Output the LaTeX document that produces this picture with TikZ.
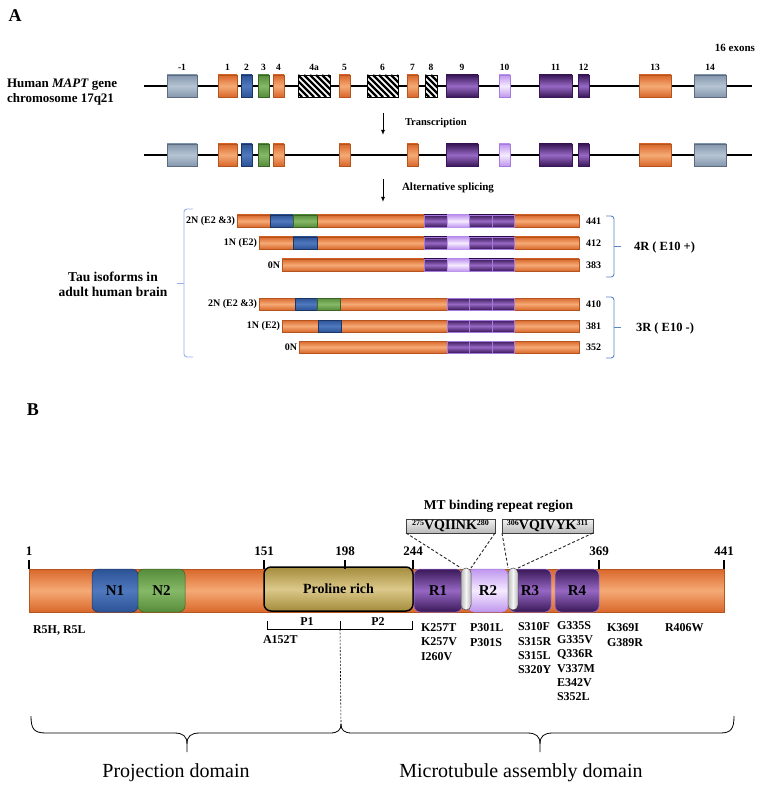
\documentclass[tikz,border=0pt]{standalone}
\usepackage{fontspec}
\setmainfont{Liberation Serif}
\usetikzlibrary{arrows.meta}
\definecolor{orA}{HTML}{D9672A}
\definecolor{orB}{HTML}{F5AA76}
\definecolor{orE}{HTML}{B4541E}
\definecolor{grA}{HTML}{8497AD}
\definecolor{grB}{HTML}{B6C4D3}
\definecolor{grE}{HTML}{5C6C7E}
\definecolor{blA}{HTML}{2D5396}
\definecolor{blB}{HTML}{4F78BE}
\definecolor{blE}{HTML}{1C3566}
\definecolor{gnA}{HTML}{568C3B}
\definecolor{gnB}{HTML}{86B967}
\definecolor{gnE}{HTML}{3A6426}
\definecolor{puA}{HTML}{3A1858}
\definecolor{puB}{HTML}{9668C4}
\definecolor{puE}{HTML}{A57BE0}
\definecolor{lpA}{HTML}{BF96EE}
\definecolor{lpB}{HTML}{F5EBFF}
\definecolor{prA}{HTML}{A48C3C}
\definecolor{prB}{HTML}{DCC98A}
\definecolor{brcR}{HTML}{5A84C4}
\definecolor{brcL}{HTML}{98AEEE}
\newcommand{\fsz}[2]{\fontsize{#1}{#2}\selectfont\bfseries}
\newcommand{\msup}[1]{\raisebox{3.5pt}{\fontsize{8}{9}\selectfont #1}}

\begin{document}
\begin{tikzpicture}[x=1pt,y=-1pt,inner sep=0pt,outer sep=0pt,
orex/.style={draw=orE,line width=0.5pt,top color=orA,bottom color=orA,middle color=orB},
greyex/.style={draw=grE,line width=0.5pt,top color=grA,bottom color=grA,middle color=grB},
blueex/.style={draw=blE,line width=0.5pt,top color=blA,bottom color=blA,middle color=blB},
greenex/.style={draw=gnE,line width=0.5pt,top color=gnA,bottom color=gnA,middle color=gnB},
purex/.style={draw=puA,line width=0.5pt,top color=puA,bottom color=puA,middle color=puB},
lpurex/.style={draw=puE,line width=0.5pt,top color=lpA,bottom color=lpA,middle color=lpB},
isopur/.style={purex,draw=puE},
proex/.style={draw=black,line width=1.5pt,top color=prA,bottom color=prA,middle color=prB},
backbone/.style={line width=1.6pt},
exlbl/.style={font=\fsz{9.5}{10}},
steplbl/.style={font=\fsz{10.5}{12},anchor=west},
steparrow/.style={line width=1pt,-{Latex[length=5pt,width=4pt]}},
isolbl/.style={font=\fsz{10}{11}},
rbrace/.style={draw=brcR,line width=0.9pt},
lbrace/.style={draw=brcL,line width=0.9pt},
protdom/.style={rounded corners=6pt,minimum height=43,font=\fsz{15}{16}},
pill/.style={draw=gray!60!black,line width=0.5pt,left color=gray!55,right color=gray!55,middle color=gray!8,rounded corners=5pt,minimum width=10,minimum height=42},
motif/.style={draw=gray!50!black,line width=0.6pt,top color=gray!10,bottom color=gray!55,minimum height=14,text height=9.5,text depth=3,font=\fsz{14}{15}},
dline/.style={gray!30!black,line width=0.9pt,dash pattern=on 3pt off 2pt},
tick/.style={line width=1.3pt},
tlbl/.style={font=\fsz{13}{14}},
mut/.style={font=\fsz{12}{14},anchor=west},
dombrace/.style={line width=0.8pt}]
\useasboundingbox (0,0) rectangle (765,791);

\node[font=\fsz{18}{20}] (A) at (15,16) {A};
\node[font=\fsz{11}{12}] (nex) at (735,48) {16 exons};
\node[font=\fsz{13}{15.5},align=left,anchor=west] (gene) at (7,92) {Human \textit{MAPT} gene\\chromosome 17q21};

\coordinate (g1a) at (144,86); \coordinate (g1b) at (752,86);
\coordinate (g2a) at (144,155); \coordinate (g2b) at (752,155);
\draw[backbone] (g1a) -- (g1b);
\draw[backbone] (g2a) -- (g2b);

\foreach \yy [count=\r] in {75,144} {
  \foreach \n/\xa/\xb/\s [count=\i] in {-1/167/197/greyex,1/218/237/orex,2/241/252/blueex,3/258/269/greenex,4/273/284/orex,5/339/350/orex,7/407/418/orex,9/446/478/purex,10/499/510/lpurex,11/539/572/purex,12/578/589/purex,13/639/671/orex,14/694/726/greyex} {
    \path[\s] (\xa,\yy) rectangle (\xb,\yy+22);
    \ifnum\r=1 \node[exlbl] (exl\i) at ({(\xa+\xb)/2},67) {\n}; \fi
  }
}
\foreach \n/\xa/\xb [count=\i] in {4a/298/330,6/367/398,8/425/437} {
  \begin{scope}
    \clip (\xa,75) rectangle (\xb,97);
    \fill[white] (\xa,75) rectangle (\xb,97);
    \foreach \k in {-24,-18,...,36} \draw[line width=2.3pt] (\xa+\k,75) -- ++(22,22);
  \end{scope}
  \draw[line width=0.5pt] (\xa,75) rectangle (\xb,97);
  \node[exlbl] (hxl\i) at ({(\xa+\xb)/2},67) {\n};
}

\coordinate (ar1a) at (383,113); \coordinate (ar1b) at (383,135);
\draw[steparrow] (ar1a) -- (ar1b);
\node[steplbl] (trs) at (405,123) {Transcription};
\coordinate (ar2a) at (383,179); \coordinate (ar2b) at (383,202);
\draw[steparrow] (ar2a) -- (ar2b);
\node[steplbl,font=\fsz{11}{12}] (spl) at (402,188) {Alternative splicing};

\foreach \y/\xs/\lab/\num [count=\i] in {221/237/2N (E2 \&3)/441,243/259/1N (E2)/412,265/282/0N/383,304/259/2N (E2 \&3)/410,326/282/1N (E2)/381,347/299/0N/352} {
  \path[orex] (\xs,\y-6) rectangle (579,\y+6);
  \node[isolbl,anchor=east] (iso\i) at (\xs-2,\y) {\lab};
  \node[isolbl,anchor=west] (len\i) at (586,\y) {\num};
}
\foreach \xa/\xb/\y/\s in {270/293/221/blueex,293/317/221/greenex,293/317/243/blueex,295/317/304/blueex,317/340/304/greenex,318/341/326/blueex}
  \path[\s] (\xa,\y-6) rectangle (\xb,\y+6);
\foreach \y in {221,243,265} {
  \path[isopur] (424,\y-6) rectangle (447,\y+6);
  \path[lpurex,draw=lpA] (447,\y-6) rectangle (469,\y+6);
  \path[isopur] (469,\y-6) rectangle (492,\y+6);
  \path[isopur] (492,\y-6) rectangle (514,\y+6);
}
\foreach \y in {304,326,347} {
  \path[isopur] (447,\y-6) rectangle (469,\y+6);
  \path[isopur] (469,\y-6) rectangle (492,\y+6);
  \path[isopur] (492,\y-6) rectangle (514,\y+6);
}

\draw[rbrace,rounded corners=3pt] (606,216) -- (614,216) -- (614,277) -- (606,277);
\draw[rbrace] (614,246.5) -- (621,246.5);
\node[font=\fsz{12.5}{14},anchor=west] (r4) at (634,247) {4R ( E10 +)};
\draw[rbrace,rounded corners=3pt] (606,297) -- (614,297) -- (614,358) -- (606,358);
\draw[rbrace] (614,327.5) -- (621,327.5);
\node[font=\fsz{12.5}{14},anchor=west] (r3) at (636,328) {3R ( E10 -)};
\draw[lbrace,rounded corners=3pt] (193,209) -- (184,209) -- (184,357) -- (193,357);
\draw[lbrace] (184,283) -- (177,283);
\node[font=\fsz{13.5}{15.5},align=center] (tau) at (113,284.5) {Tau isoforms in\\adult human brain};

\node[font=\fsz{18}{20}] (B) at (33,410) {B};
\node[font=\fsz{13.5}{15}] (mtr) at (498.5,506) {MT binding repeat region};
\node[motif,minimum width=89] (m1) at (450.5,526) {\msup{275}VQIINK\msup{280}};
\node[motif,minimum width=91] (m2) at (547.5,526) {\msup{306}VQIVYK\msup{311}};

\path[orex] (29,569) rectangle (724,612);
\node[protdom,blueex,minimum width=46] (N1) at (115,590.5) {N1};
\node[protdom,greenex,minimum width=47] (N2) at (161.5,590.5) {N2};
\node[protdom,proex,rounded corners=7pt,minimum width=149,minimum height=44,font=\fsz{14}{15}] (pro) at (338.5,589) {Proline rich};
\node[protdom,purex,draw=puE,minimum width=48] (R1) at (438,590.5) {R1};
\node[protdom,lpurex,minimum width=40] (R2) at (488,590.5) {R2};
\node[protdom,purex,draw=puE,minimum width=42] (R3) at (530,590.5) {R3};
\node[protdom,purex,draw=puE,minimum width=44] (R4) at (577,590.5) {R4};
\node[pill] (pl1) at (466,589) {};
\node[pill] (pl2) at (513,589) {};

\foreach \x/\t [count=\i] in {29/1,264/151,345/198,413/244,599/369,724/441} {
  \draw[tick] (\x,560) -- (\x,569);
  \node[tlbl] (t\i) at (\x,551) {\t};
}

\draw[dline] (m1.south west) -- (pl1.north west);
\draw[dline] (m1.south east) -- (pl1.north east);
\draw[dline] (m2.south west) -- (pl2.north west);
\draw[dline] (m2.south east) -- (pl2.north east);

\draw[line width=0.7pt] (267,621) -- (267,629) -- (412,629) -- (412,621);
\coordinate (pm) at (340,621); \coordinate (pb) at (340,629); \coordinate (cusp) at (341,724);
\draw[line width=0.7pt] (pm) -- (pb);
\draw[line width=0.6pt,dash pattern=on 2pt off 1.5pt] (pb) -- (cusp);
\node[font=\fsz{12}{13}] (p1) at (307,622) {P1};
\node[font=\fsz{12}{13}] (p2) at (378,622) {P2};

\node[mut] (r5) at (33,630) {R5H, R5L};
\node[mut] (a152) at (263,640) {A152T};
\foreach \m [count=\i] in {K257T,K257V,I260V} \node[mut] (ka\i) at (421,613.9+14.1*\i) {\m};
\foreach \m [count=\i] in {P301L,P301S} \node[mut] (pa\i) at (470,613.9+14.1*\i) {\m};
\foreach \m [count=\i] in {S310F,S315R,S315L,S320Y} \node[mut] (sa\i) at (518,612.9+14.1*\i) {\m};
\foreach \m [count=\i] in {G335S,G335V,Q336R,V337M,E342V,S352L} \node[mut] (ga\i) at (557,611.9+14.1*\i) {\m};
\foreach \m [count=\i] in {K369I,G389R} \node[mut] (kb\i) at (607,613.9+14.1*\i) {\m};
\node[mut] (r406) at (665,628) {R406W};

\draw[dombrace] (31,716) .. controls (31,729) and (34,733) .. (46,733) -- (174,733) .. controls (183,733) and (187,736) .. (187,744) -- (187,752);
\draw[dombrace] (187,744) .. controls (187,736) and (191,733) .. (200,733) -- (330,733) .. controls (338,733) and (341,730) .. (cusp);
\draw[dombrace] (cusp) .. controls (341,730) and (344,733) .. (352,733) -- (527,733) .. controls (536,733) and (540,736) .. (540,744) -- (540,752);
\draw[dombrace] (540,744) .. controls (540,736) and (544,733) .. (553,733) -- (720,733) .. controls (731,733) and (734,729) .. (734,716);
\node[font=\fontsize{20}{22}\selectfont] (prj) at (176,773) {Projection domain};
\node[font=\fontsize{20}{22}\selectfont] (mtd) at (521,773) {Microtubule assembly domain};
\end{tikzpicture}
\end{document}
